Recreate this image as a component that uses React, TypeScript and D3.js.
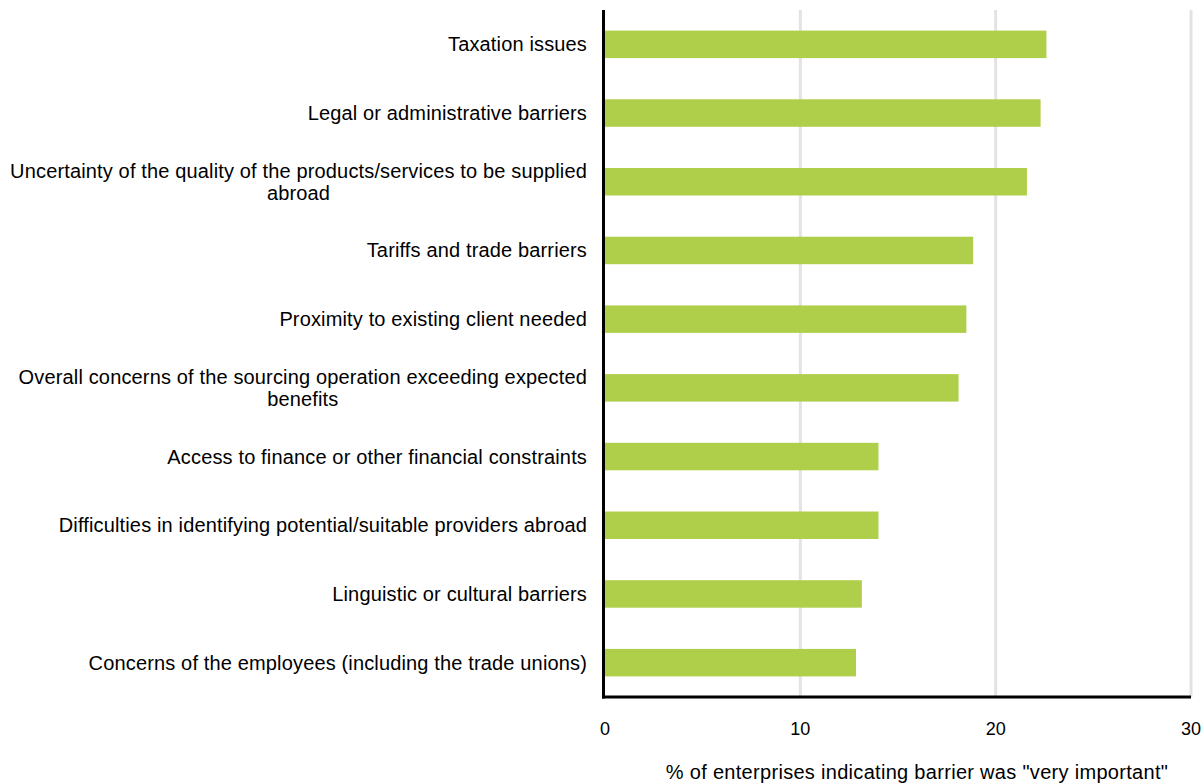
import React, { useLayoutEffect, useRef, useState } from "react";
import * as d3 from "d3";

const categories: string[][] = [
  ["Taxation issues"],
  ["Legal or administrative barriers"],
  ["Uncertainty of the quality of the products/services to be supplied", "abroad"],
  ["Tariffs and trade barriers"],
  ["Proximity to existing client needed"],
  ["Overall concerns of the sourcing operation exceeding expected", "benefits"],
  ["Access to finance or other financial constraints"],
  ["Difficulties in identifying potential/suitable providers abroad"],
  ["Linguistic or cultural barriers"],
  ["Concerns of the employees (including the trade unions)"],
];
const values: number[] = [22.6, 22.3, 21.6, 18.85, 18.5, 18.1, 14.0, 14.0, 13.15, 12.85];
const xTicks: number[] = [0, 10, 20, 30];
const axisTitle = '% of enterprises indicating barrier was "very important"';

const W = 1204;
const H = 783;
const left = 605;
const right = 1191;
const top = 10;
const bottom = 697;
const labelRight = 587;

export default function App() {
  const x = d3.scaleLinear().domain([0, 30]).range([left, right]);
  const y = d3
    .scaleBand<number>()
    .domain(d3.range(categories.length))
    .range([top, bottom])
    .paddingInner(0.6)
    .paddingOuter(0.3);
  const font = "'Liberation Sans', Arial, sans-serif";
  const refs = useRef<(SVGTSpanElement | null)[]>([]);
  const [widths, setWidths] = useState<number[]>(categories.map(() => 0));
  useLayoutEffect(() => {
    setWidths(
      categories.map((_, i) => {
        const el = refs.current[i];
        return el ? el.getComputedTextLength() : 0;
      })
    );
  }, []);
  const lh = 22;
  return (
    <svg width={W} height={H} style={{ position: "absolute", left: 0, top: 0 }}>
      <rect width={W} height={H} fill="#ffffff" />
      {xTicks.slice(1).map((t) => (
        <line key={t} x1={x(t)} x2={x(t)} y1={top} y2={bottom} stroke="#e3e3e3" strokeWidth={3} />
      ))}
      {values.map((v, i) => (
        <rect key={i} x={x(0)} y={y(i)} width={x(v) - x(0)} height={y.bandwidth()} fill="#afcf4b" />
      ))}
      <line x1={left - 1.5} x2={left - 1.5} y1={top} y2={bottom + 1.5} stroke="#000" strokeWidth={3} />
      <line x1={left - 3} x2={right} y1={bottom} y2={bottom} stroke="#000" strokeWidth={3} />
      {categories.map((lines, i) => {
        const cy = (y(i) as number) + y.bandwidth() / 2;
        const y0 = cy - ((lines.length - 1) * lh) / 2;
        const cx = labelRight - widths[i] / 2;
        return (
          <g key={i} fontFamily={font} fontSize={20} letterSpacing={0.15} fill="#000">
            {lines.map((l, j) => (
              <text
                key={j}
                x={j === 0 ? labelRight : cx}
                y={y0 + j * lh}
                textAnchor={j === 0 ? "end" : "middle"}
                dominantBaseline="central"
              >
                <tspan ref={j === 0 ? (el) => { refs.current[i] = el; } : undefined}>{l}</tspan>
              </text>
            ))}
          </g>
        );
      })}
      {xTicks.map((t) => (
        <text key={t} x={x(t)} y={729} fontFamily={font} fontSize={18} textAnchor="middle" dominantBaseline="central" fill="#000">
          {t}
        </text>
      ))}
      <text x={917} y={772} fontFamily={font} fontSize={20} letterSpacing={0.3} textAnchor="middle" dominantBaseline="central" fill="#000">
        {axisTitle}
      </text>
    </svg>
  );
}
